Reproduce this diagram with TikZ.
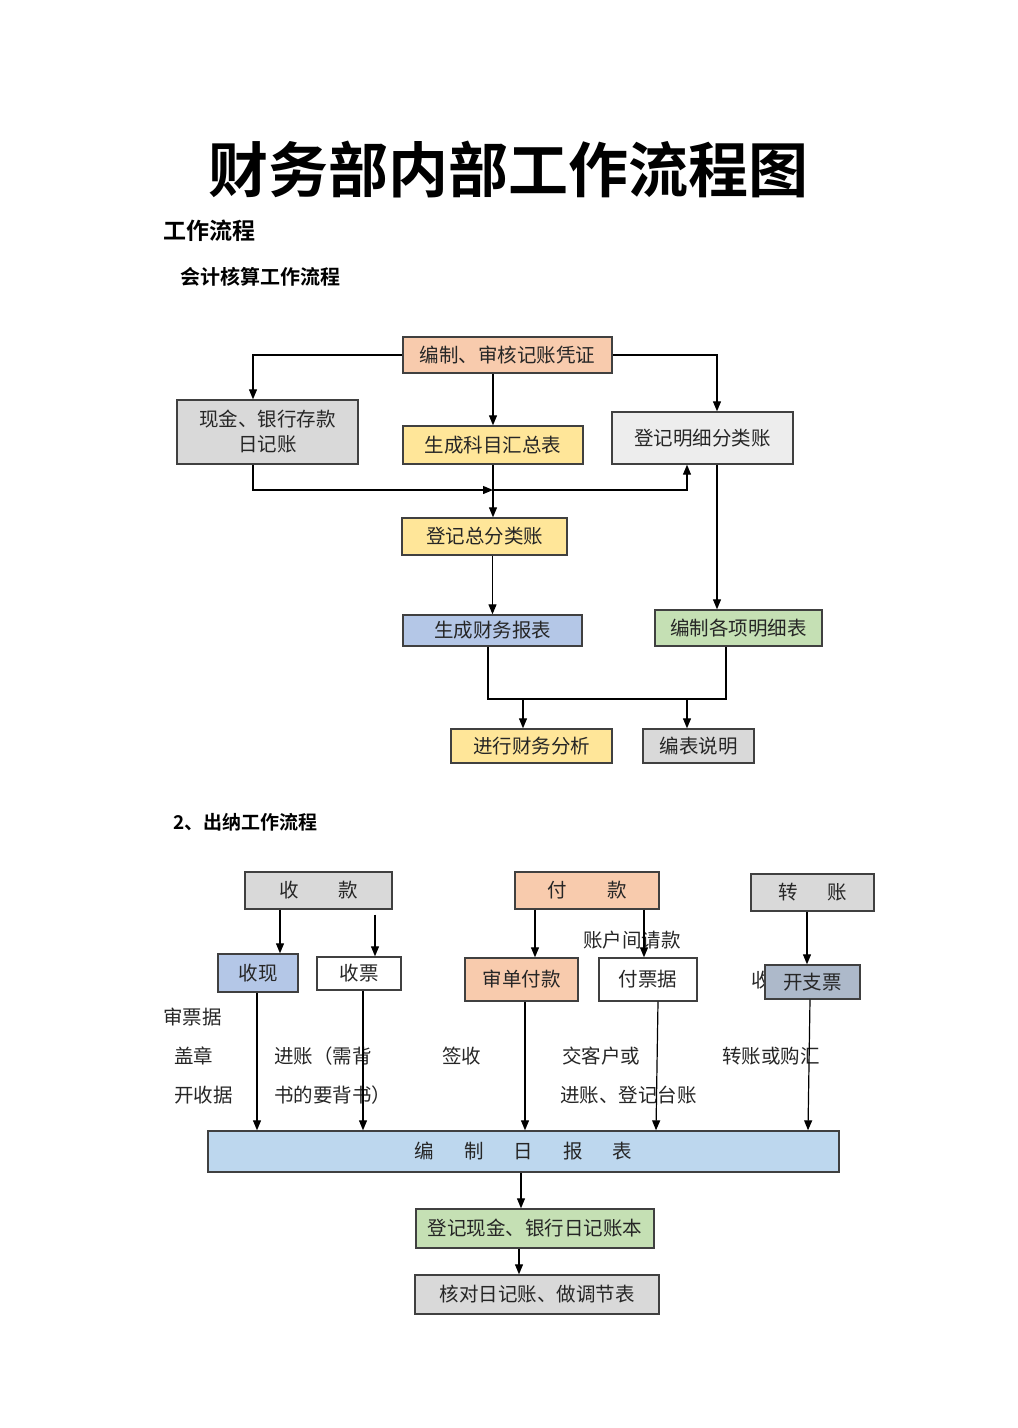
\documentclass[tikz,border=0pt]{standalone}
\usepackage{fontspec}
\setmainfont{Noto Sans CJK SC}[BoldFont={Noto Sans CJK SC Bold}]
\usetikzlibrary{arrows.meta}
\definecolor{salmon}{HTML}{F8CBAD}
\definecolor{grayb}{HTML}{D9D9D9}
\definecolor{lgray}{HTML}{EDEDED}
\definecolor{yellowb}{HTML}{FFE699}
\definecolor{blueb}{HTML}{B4C7E7}
\definecolor{greenb}{HTML}{C5E0B4}
\definecolor{skyb}{HTML}{BDD7EE}
\definecolor{slateb}{HTML}{ADB9CA}
\definecolor{edge}{HTML}{404040}
\definecolor{txt}{HTML}{262626}
\begin{document}
\begin{tikzpicture}[x=1pt,y=-1pt,
  box/.style={draw=edge,line width=1.4pt,inner sep=0pt,text=txt,align=center,font=\fontsize{19.5}{25}\selectfont},
  lbl/.style={inner sep=0pt,anchor=west,text=txt,font=\fontsize{19.5}{22}\selectfont},
  arr/.style={-{Triangle[width=8pt,length=10pt]},line width=1.2pt}]
\useasboundingbox[fill=white] (0,0) rectangle (1018,1428);
\node[font=\fontsize{60}{64}\selectfont\bfseries] (title) at (508,170) {财务部内部工作流程图};
\node[lbl,text=black,font=\fontsize{23}{26}\selectfont\bfseries] (h1) at (163,231) {工作流程};
\node[lbl,text=black,font=\fontsize{20}{23}\selectfont\bfseries] (h2) at (180,277) {会计核算工作流程};
\node[lbl,text=black,font=\fontsize{19}{22}\selectfont\bfseries] (h3) at (173,822) {2、出纳工作流程};

\node[box,fill=salmon,minimum width=209,minimum height=36] (pz) at (507.5,355) {编制、审核记账凭证};
\node[box,fill=grayb,minimum width=181,minimum height=64] (xj) at (267.5,432) {现金、银行存款\\日记账};
\node[box,fill=yellowb,minimum width=180,minimum height=38] (hz) at (493,445) {生成科目汇总表};
\node[box,fill=lgray,minimum width=181,minimum height=52] (mx) at (702.5,438) {登记明细分类账};
\node[box,fill=yellowb,minimum width=165,minimum height=37] (zz) at (484.5,536.5) {登记总分类账};
\node[box,fill=blueb,minimum width=179,minimum height=31] (bb) at (492.5,630.5) {生成财务报表};
\node[box,fill=greenb,minimum width=167,minimum height=36] (mxb) at (738.5,628) {编制各项明细表};
\node[box,fill=yellowb,minimum width=161,minimum height=34] (fx) at (531.5,746) {进行财务分析};
\node[box,fill=grayb,minimum width=111,minimum height=34] (sm) at (698.5,746) {编表说明};

\draw[arr] (pz.west) -| ([xshift=-14.5pt]xj.north);
\draw[arr] (pz.east) -| ([xshift=14.5pt]mx.north);
\draw[arr] (hz.north |- pz.south) -- (hz.north);
\coordinate (j1) at (493,490);
\draw[arr] ([xshift=-14.5pt]xj.south) |- (j1);
\draw[arr] (j1) -| ([xshift=-15.5pt]mx.south);
\draw[arr] (hz.south) -- (hz.south |- zz.north);
\draw[arr] (bb.north |- zz.south) -- (bb.north);
\draw[arr] ([xshift=14.5pt]mx.south) -- ([xshift=14.5pt]mx.south |- mxb.north);
\coordinate (m1) at (523,699);
\coordinate (m2) at (687,699);
\draw[line width=1.2pt] ([xshift=-4.5pt]bb.south) |- (m2) -| ([xshift=-12.5pt]mxb.south);
\draw[arr] (m1) -- (m1 |- fx.north);
\draw[arr] (m2) -- (m2 |- sm.north);

\node[box,fill=grayb,minimum width=147,minimum height=37] (sk) at (318.5,890.5) {收\hspace{40pt}款};
\node[box,fill=salmon,minimum width=144,minimum height=37] (fk) at (587,890.5) {付\hspace{41pt}款};
\node[box,fill=grayb,minimum width=123,minimum height=37] (zh) at (812.5,892.5) {转\hspace{30pt}账};
\node[box,fill=blueb,minimum width=80,minimum height=38] (sx) at (258,973) {收现};
\node[box,fill=white,minimum width=84,minimum height=33] (sp) at (359,973.5) {收票};
\node[box,fill=salmon,minimum width=113,minimum height=43] (sd) at (521.5,979.5) {审单付款};
\node[box,fill=white,minimum width=98,minimum height=43] (fp) at (648,979.5) {付票据};
\node[lbl] (sh) at (751,980) {收};
\node[box,fill=slateb,minimum width=95,minimum height=34] (kz) at (812.5,982) {开支票};
\node[box,fill=skyb,minimum width=631,minimum height=41] (rb) at (523.5,1151.5) {编\hspace{30pt}制\hspace{30pt}日\hspace{30pt}报\hspace{30pt}表};
\node[box,fill=greenb,minimum width=238,minimum height=39] (dj) at (535,1228.5) {登记现金、银行日记账本};
\node[box,fill=grayb,minimum width=244,minimum height=39] (hd) at (537,1294.5) {核对日记账、做调节表};

\node[lbl] (t1) at (583,940) {账户间请款};
\node[lbl] (t2) at (163,1017) {审票据};
\node[lbl] (t3) at (174,1056) {盖章};
\node[lbl] (t4) at (174,1095) {开收据};
\node[lbl] (t5) at (274,1056) {进账（需背};
\node[lbl] (t6) at (274,1095) {书的要背书）};
\node[lbl] (t7) at (442,1056) {签收};
\node[lbl] (t8) at (562,1056) {交客户或};
\node[lbl] (t9) at (560,1095) {进账、登记台账};
\node[lbl] (t10) at (722,1056) {转账或购汇};

\draw[arr] (sk.south -| 280,0) -- (sx.north -| 280,0);
\draw[arr,shorten <=5pt] (sk.south -| 375,0) -- (sp.north -| 375,0);
\draw[arr] (fk.south -| 535,0) -- (sd.north -| 535,0);
\draw[arr] (fk.south -| 644,0) -- (fp.north -| 644,0);
\draw[arr] (zh.south -| 807,0) -- (kz.north -| 807,0);
\draw[arr] (sx.south -| 257,0) -- (rb.north -| 257,0);
\draw[arr] (sp.south -| 363,0) -- (rb.north -| 363,0);
\draw[arr] (sd.south -| 525,0) -- (rb.north -| 525,0);
\draw[arr] (fp.south -| 658,0) -- (rb.north -| 656,0);
\draw[arr] (kz.south -| 810,0) -- (rb.north -| 808,0);
\draw[arr] (rb.south -| 521,0) -- (dj.north -| 521,0);
\draw[arr] (dj.south -| 519,0) -- (hd.north -| 519,0);
\end{tikzpicture}
\end{document}
